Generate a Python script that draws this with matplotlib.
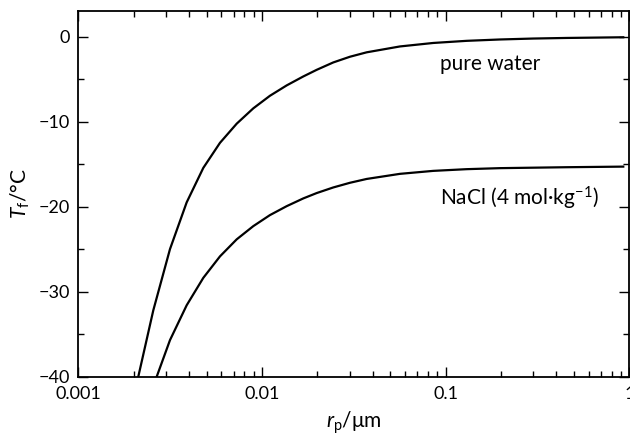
import matplotlib
matplotlib.use("Agg")
import matplotlib.pyplot as plt
from matplotlib.ticker import FixedLocator, MultipleLocator, LogLocator, NullFormatter

# ── Fonts ─────────────────────────────────────────────────────
FONT = "Lato"
plt.rcParams["font.family"] = [FONT, "DejaVu Sans"]
plt.rcParams["mathtext.fontset"] = "custom"
plt.rcParams["mathtext.rm"] = FONT
plt.rcParams["mathtext.it"] = FONT + ":italic"

# ── Data ──────────────────────────────────────────────────────
r_water = [0.002121, 0.00256, 0.003156, 0.003891, 0.004792, 0.005908,
           0.007285, 0.008966, 0.01105, 0.01363, 0.01678, 0.01985,
           0.02444, 0.03013, 0.03715, 0.05638, 0.08561, 0.1301, 0.1977,
           0.3, 0.456, 0.927]
t_water = [-40.0, -32.2, -25.0, -19.5, -15.45, -12.5,
           -10.25, -8.45, -6.97, -5.75, -4.7, -3.92,
           -3.05, -2.38, -1.86, -1.17, -0.76, -0.51, -0.35,
           -0.24, -0.17, -0.09]

r_nacl = [0.002672, 0.003156, 0.003891, 0.004792, 0.005908, 0.007285,
          0.008966, 0.01105, 0.01363, 0.01678, 0.01985, 0.02444, 0.03013,
          0.03715, 0.05638, 0.08561, 0.1301, 0.1977, 0.456, 0.927]
t_nacl = [-40.0, -35.7, -31.6, -28.38, -25.85, -23.85,
          -22.3, -21.0, -19.95, -19.04, -18.41, -17.75, -17.2,
          -16.75, -16.15, -15.8, -15.6, -15.48, -15.37, -15.3]

x_ticks = [0.001, 0.01, 0.1, 1]
x_labels = ["0.001", "0.01", "0.1", "1"]
y_ticks = [-40, -30, -20, -10, 0]
y_labels = ["\u221240", "\u221230", "\u221220", "\u221210", "0"]

# ── Figure ────────────────────────────────────────────────────
fig = plt.figure(figsize=(6.3, 4.43), dpi=100, facecolor="white")
ax = fig.add_axes([0.1243, 0.1497, 0.8746, 0.8255])

ax.plot(r_water, t_water, color="black", linewidth=1.6,
        solid_joinstyle="round")
ax.plot(r_nacl, t_nacl, color="black", linewidth=1.6,
        solid_joinstyle="round")

ax.set_xscale("log")
ax.set_xlim(0.001, 1)
ax.set_ylim(-40, 3)

ax.xaxis.set_major_locator(FixedLocator(x_ticks))
ax.set_xticklabels(x_labels)
ax.xaxis.set_minor_locator(LogLocator(base=10, subs=range(2, 10)))
ax.xaxis.set_minor_formatter(NullFormatter())
ax.yaxis.set_major_locator(FixedLocator(y_ticks))
ax.set_yticklabels(y_labels)
ax.yaxis.set_minor_locator(MultipleLocator(5))

ax.tick_params(which="both", direction="in", top=True, right=True,
               width=1.0, labelsize=13, color="black")
ax.tick_params(which="major", length=7.5)
ax.tick_params(which="minor", length=4)
ax.tick_params(axis="x", which="major", pad=7)
ax.tick_params(axis="y", which="major", pad=6)

for spine in ax.spines.values():
    spine.set_linewidth(1.3)

ax.text(0.093, -3.2, "pure water", fontsize=15, ha="left", va="center")
ax.text(0.093, -19.0, "NaCl (4 mol\u00b7kg$^{\u22121}$)", fontsize=15,
        ha="left", va="center")

ax.set_xlabel("$r_{\\rm p}$/\u03bcm", fontsize=15, labelpad=5)
ax.set_ylabel("$T_{\\rm f}$/\u00b0C", fontsize=15, labelpad=5)

fig.savefig("out.png", dpi=100)
